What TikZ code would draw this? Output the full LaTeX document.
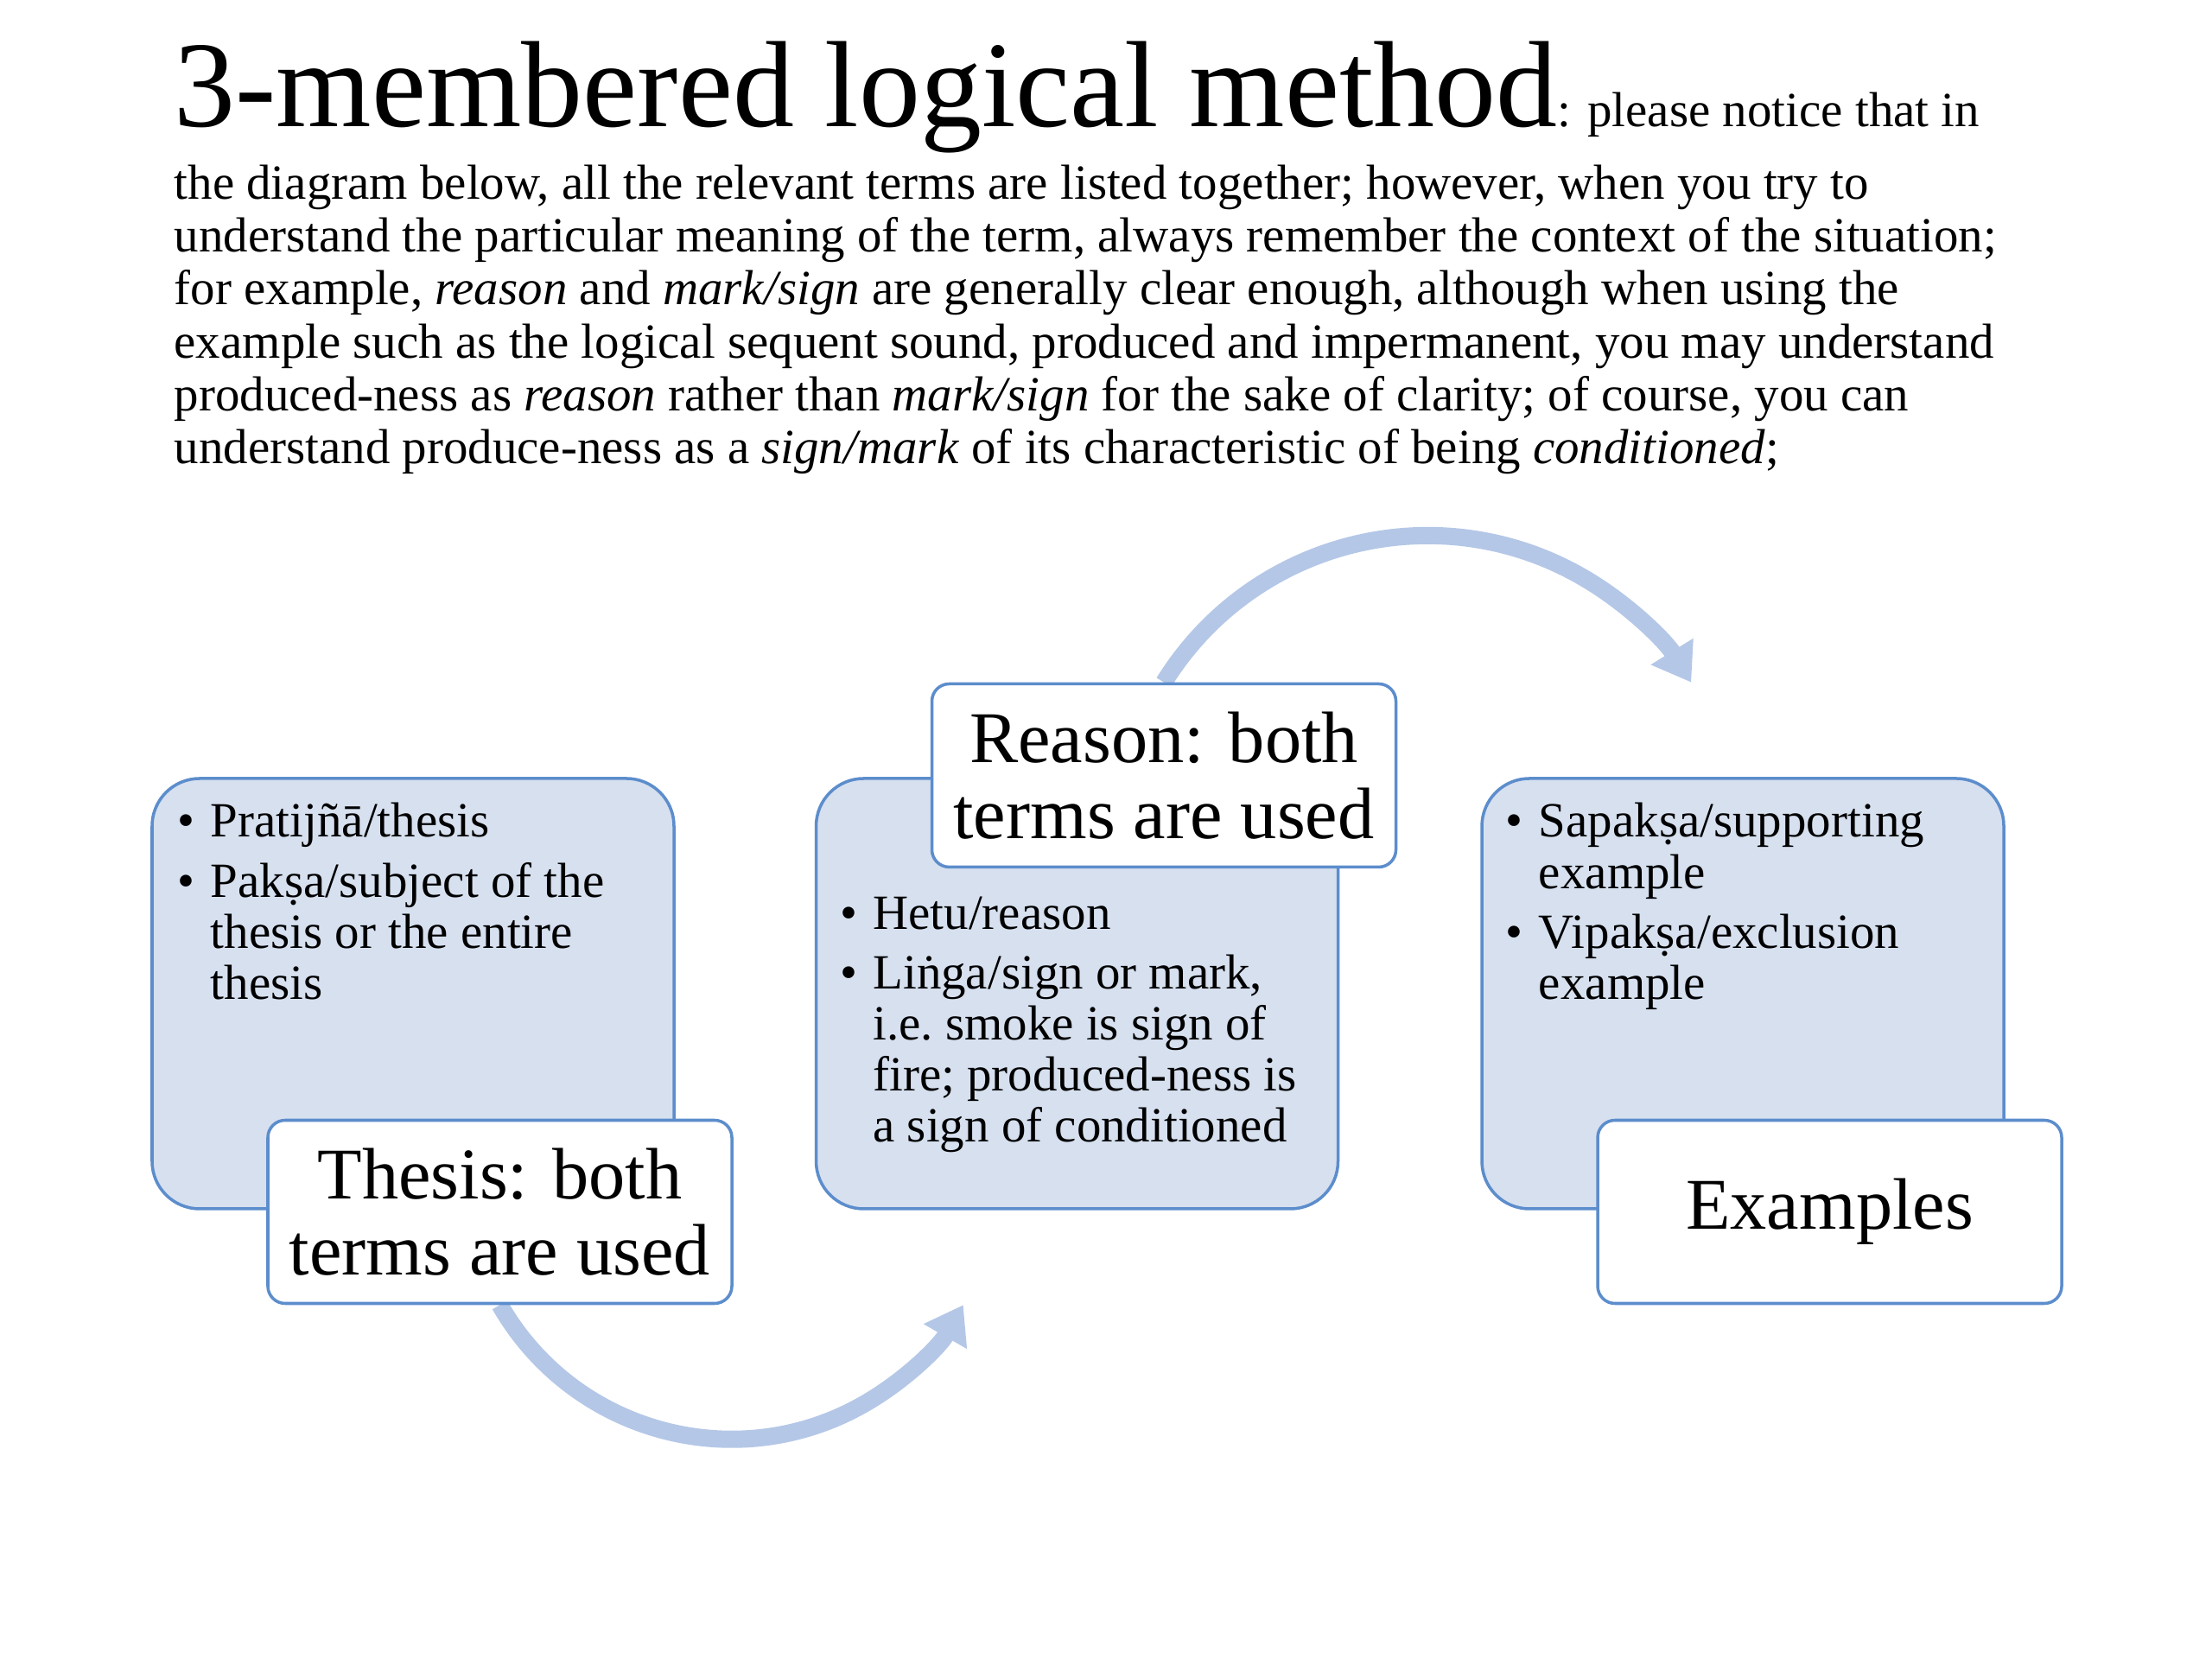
\documentclass[tikz,border=0pt]{standalone}
\usepackage{fontspec}
\setmainfont{Liberation Serif}
\usetikzlibrary{positioning,backgrounds,arrows.meta}
\definecolor{panelfill}{RGB}{214,224,239}
\definecolor{panelline}{RGB}{92,141,204}
\definecolor{flowblue}{RGB}{180,199,231}
\tikzset{
	>=Triangle,
	panel/.style={rectangle, draw=panelline, line width=1pt, fill=panelfill, rounded corners=0.55cm, minimum width=6.04cm, minimum height=4.98cm, inner sep=0pt},
	tag/.style={rectangle, draw=panelline, line width=1pt, fill=white, rounded corners=0.2cm, minimum width=5.37cm, minimum height=2.12cm, align=center, inner sep=0pt, font=\fontsize{24}{25}\selectfont},
	items/.style={text width=5.6cm, align=flush left, inner sep=0pt, font=\fontsize{16.2}{16.8}\selectfont, execute at begin node={\setlength{\parskip}{0.1cm}}},
	intro/.style={align=left, inner sep=0pt, font=\fontsize{16.2}{17.4}\selectfont},
	flow/.style={draw=flowblue, line width=0.2cm, -{Triangle[length=0.42cm, width=0.55cm]}}
}
\newcommand{\bitem}[1]{\par\hangindent=0.38cm\hangafter=1\noindent\makebox[0.38cm][l]{\textbullet}#1\par}
\newcommand{\nl}{\hfil\break}

\begin{document}
\begin{tikzpicture}

	% --- Page ---
	\begin{scope}[on background layer]
		\path[use as bounding box, fill=white] (0,0) rectangle (25.6,19.2);
	\end{scope}

	% --- Heading ---
	\node[anchor=base west, inner sep=0pt] (title) at (2.01,17.73) {\fontsize{40.4}{44}\selectfont 3-membered logical method\fontsize{16.2}{17.4}\selectfont: please notice that in};
	\node[intro, anchor=north west] (intro) at (2.01,17.295) {the diagram below, all the relevant terms are listed together; however, when you try to\\
		understand the particular meaning of the term, always remember the context of the situation;\\
		for example, \textit{reason} and \textit{mark/sign} are generally clear enough, although when using the\\
		example such as the logical sequent sound, produced and impermanent, you may understand\\
		produced-ness as \textit{reason} rather than \textit{mark/sign} for the sake of clarity; of course, you can\\
		understand produce-ness as a \textit{sign/mark} of its characteristic of being \textit{conditioned};};

	% --- Panels ---
	\node[panel] (thesisbox) at (4.78,7.70) {};
	\node[panel, right=1.61cm of thesisbox] (reasonbox) {};
	\node[panel, right=1.63cm of reasonbox] (examplebox) {};

	\node[items, below right=0.0cm and 0.31cm of thesisbox.north west] (thesisitems) {\bitem{Pratijñā/thesis}\bitem{Pakṣa/subject of the\nl thesis or the entire\nl thesis}};
	\node[items, below right=1.065cm and 0.29cm of reasonbox.north west] (reasonitems) {\bitem{Hetu/reason}\bitem{Liṅga/sign or mark,\nl i.e.\ smoke is sign of\nl fire; produced-ness is\nl a sign of conditioned}};
	\node[items, below right=0.0cm and 0.29cm of examplebox.north west] (exampleitems) {\bitem{Sapakṣa/supporting\nl example}\bitem{Vipakṣa/exclusion\nl example}};

	% --- Labels ---
	\node[tag, anchor=north west] (thesislbl) at ([shift={(1.34,1.06)}]thesisbox.south west) {Thesis: both\\terms are used};
	\node[tag, anchor=south west] (reasonlbl) at ([shift={(1.34,-1.06)}]reasonbox.north west) {Reason: both\\terms are used};
	\node[tag, anchor=north west] (examplelbl) at ([shift={(1.34,1.06)}]examplebox.south west) {Examples};

	% --- Flow ---
	\begin{scope}[on background layer]
		\draw[flow] (thesislbl.south) arc[start angle=209.8, end angle=330.2, radius=3.09cm];
		\draw[flow] (reasonlbl.north) arc[start angle=148.2, end angle=31.8, radius=3.59cm];
	\end{scope}

\end{tikzpicture}
\end{document}
